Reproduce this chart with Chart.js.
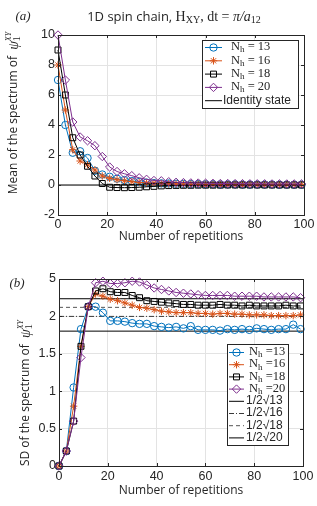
<!DOCTYPE html>
<html>
<head>
<meta charset="utf-8">
<script src="https://cdn.jsdelivr.net/npm/chart.js@4/dist/chart.umd.min.js"></script>
<style>
  body { margin: 0; background: #fff; }
  .panel { position: relative; width: 317px; }
  #topWrap { height: 250px; }
  #botWrap { height: 256px; }
</style>
</head>
<body>
<div class="panel" id="topWrap"><canvas id="meanChart"></canvas></div>
<div class="panel" id="botWrap"><canvas id="sdChart"></canvas></div>
<script>
// x positions (number of repetitions)
const repetitions = [0, 3, 6, 9, 12, 15, 18, 21, 24, 27, 30, 33, 36, 39, 42, 45, 48,
  51, 54, 57, 60, 63, 66, 69, 72, 75, 78, 81, 84, 87, 90, 93, 96, 99];

// (a) mean of the spectrum
const meanN13 = [7.0, 4.0, 2.15, 2.25, 1.8, 0.95, 0.7, 0.55, 0.42, 0.33, 0.26, 0.2, 0.16, 0.13, 0.11, 0.1, 0.08,
  0.07, 0.06, 0.06, 0.05, 0.05, 0.04, 0.04, 0.04, 0.03, 0.03, 0.03, 0.03, 0.03, 0.02, 0.02, 0.02, 0.02];
const meanN16 = [8.0, 5.0, 2.35, 1.6, 1.35, 1.0, 0.6, 0.45, 0.35, 0.28, 0.22, 0.17, 0.14, 0.12, 0.1, 0.08, 0.07,
  0.06, 0.05, 0.05, 0.04, 0.04, 0.04, 0.03, 0.03, 0.03, 0.03, 0.02, 0.02, 0.02, 0.02, 0.02, 0.02, 0.02];
const meanN18 = [9.0, 6.0, 3.15, 2.0, 1.25, 0.6, 0.1, -0.15, -0.17, -0.18, -0.17, -0.15, -0.12, -0.09, -0.06, -0.04, -0.03,
  -0.02, -0.02, -0.01, -0.01, -0.01, -0.01, 0, 0, 0, 0, 0, 0, 0, 0, 0, 0, 0];
const meanN20 = [10.0, 7.0, 4.2, 3.2, 2.95, 2.62, 1.9, 1.2, 0.9, 0.75, 0.62, 0.48, 0.38, 0.3, 0.28, 0.22, 0.18,
  0.16, 0.14, 0.13, 0.12, 0.11, 0.1, 0.1, 0.09, 0.09, 0.08, 0.08, 0.08, 0.07, 0.07, 0.07, 0.07, 0.07];
const identityLevel = 0;

// (b) SD of the spectrum
const sdN13 = [0, 0.2, 1.05, 1.83, 2.13, 2.13, 2.05, 1.94, 1.94, 1.93, 1.91, 1.90, 1.90, 1.87, 1.86, 1.85, 1.86,
  1.84, 1.87, 1.82, 1.82, 1.82, 1.81, 1.83, 1.82, 1.83, 1.82, 1.84, 1.83, 1.82, 1.83, 1.83, 1.89, 1.83];
const sdN16 = [0, 0.2, 0.8, 1.6, 2.13, 2.30, 2.27, 2.23, 2.21, 2.18, 2.15, 2.12, 2.11, 2.09, 2.07, 2.06, 2.05,
  2.05, 2.05, 2.04, 2.04, 2.03, 2.04, 2.04, 2.03, 2.03, 2.02, 2.02, 2.02, 2.01, 2.01, 2.01, 2.01, 2.02];
const sdN18 = [0, 0.2, 0.6, 1.6, 2.13, 2.34, 2.37, 2.33, 2.32, 2.32, 2.28, 2.25, 2.21, 2.20, 2.19, 2.18, 2.17,
  2.16, 2.16, 2.15, 2.15, 2.15, 2.16, 2.15, 2.15, 2.14, 2.15, 2.14, 2.14, 2.14, 2.14, 2.15, 2.14, 2.14];
const sdN20 = [0, 0.2, 0.6, 1.45, 2.13, 2.45, 2.47, 2.44, 2.44, 2.45, 2.47, 2.46, 2.42, 2.38, 2.36, 2.34, 2.32,
  2.31, 2.30, 2.29, 2.28, 2.28, 2.28, 2.28, 2.27, 2.27, 2.27, 2.27, 2.26, 2.26, 2.26, 2.26, 2.26, 2.25];
const sdRefValues = [1.803, 2.0, 2.121, 2.236];   // 1/2 sqrt(N_h)
const sdRefLabels = ["1/2\u221A13", "1/2\u221A16", "1/2\u221A18", "1/2\u221A20"];

const sizes = ["13", "16", "18", "20"];
const xTicks = [0, 20, 40, 60, 80, 100];

const textColor = "#262626";
const gridColor = "#e3e3e3";
const sans = '"Liberation Sans", Arial, sans-serif';
const labelFont = '"Open Sans", sans-serif';
const serif = '"Liberation Serif", "Times New Roman", serif';

const seriesStyle = [
  { color: "#0072BD", pointStyle: "circle", radius: 3.7 },
  { color: "#D95319", pointStyle: "star", radius: 3.7 },
  { color: "#000000", pointStyle: "rect", radius: 4.2 },
  { color: "#7E2F8E", pointStyle: "rectRot", radius: 4.2 },
];
const refStyle = [
  { color: "#000000", dash: [] },
  { color: "#3a3a3a", dash: [5, 2, 1, 2] },
  { color: "#555555", dash: [4, 3] },
  { color: "#000000", dash: [] },
];

function toPoints(values) {
  return values.map((v, i) => ({ x: repetitions[i], y: v }));
}

function seriesDataset(values, i) {
  let s = seriesStyle[i];
  return {
    data: toPoints(values),
    borderColor: s.color,
    borderWidth: 1,
    pointStyle: s.pointStyle,
    pointRadius: s.radius,
    pointBorderColor: s.color,
    pointBackgroundColor: "rgba(0,0,0,0)",
    pointBorderWidth: 1,
    tension: 0,
    clip: false,
    order: 4 - i,
  };
}

function flatDataset(level, color, dash) {
  return {
    data: [{ x: 0, y: level }, { x: 100, y: level }],
    borderColor: color,
    borderWidth: 1,
    borderDash: dash,
    pointRadius: 0,
    clip: false,
    order: 10,
  };
}

// draws a run of text pieces (sub/superscripts) centred on x
function drawRich(ctx, parts, x, y, align) {
  let total = 0;
  parts.forEach((p, k) => {
    ctx.font = p.font;
    p.w = ctx.measureText(p.text).width;
    total += p.back ? Math.max(0, p.w - parts[k - 1].w) : p.w;
  });
  let cx = align === "left" ? x : x - total / 2;
  ctx.textAlign = "left";
  ctx.textBaseline = "middle";
  let prev = null;
  parts.forEach((p) => {
    ctx.font = p.font;
    if (p.back) cx -= prev.w;
    ctx.fillText(p.text, cx, y + (p.dy || 0));
    cx += p.w;
    prev = p;
  });
}

function psiParts(size) {
  return [
    { text: "\u03C8", font: "italic " + (size + 3) + "px " + serif },
    { text: "1", font: (size - 1) + "px " + serif, dy: 3 },
    { text: "XY", font: "italic " + (size - 3) + "px " + serif, dy: -5, back: true },
  ];
}

function nhParts(num, spaced) {
  return [
    { text: "N", font: "12.5px " + serif },
    { text: "h", font: "9px " + serif, dy: 3 },
    { text: spaced ? " = " + num : " =" + num, font: "12.5px " + serif },
  ];
}

function drawFrame(chart) {
  let ctx = chart.ctx;
  let a = chart.chartArea;
  ctx.save();
  ctx.strokeStyle = textColor;
  ctx.lineWidth = 1;
  ctx.beginPath();
  let xs = chart.scales.x, ys = chart.scales.y;
  xs.ticks.forEach((t) => {
    let px = Math.round(xs.getPixelForValue(t.value)) + 0.5;
    ctx.moveTo(px, a.bottom); ctx.lineTo(px, a.bottom - 3);
    ctx.moveTo(px, a.top); ctx.lineTo(px, a.top + 3);
  });
  ys.ticks.forEach((t) => {
    let py = Math.round(ys.getPixelForValue(t.value)) + 0.5;
    ctx.moveTo(a.left, py); ctx.lineTo(a.left + 3, py);
    ctx.moveTo(a.right, py); ctx.lineTo(a.right - 3, py);
  });
  ctx.stroke();
  ctx.strokeRect(Math.round(a.left) + 0.5, Math.round(a.top) + 0.5,
    Math.round(a.right - a.left), Math.round(a.bottom - a.top));
  ctx.restore();
}

function drawLegend(ctx, box, rows) {
  ctx.save();
  ctx.fillStyle = "#fff";
  ctx.fillRect(box.x, box.y, box.w, box.h);
  ctx.strokeStyle = textColor;
  ctx.lineWidth = 1;
  ctx.strokeRect(box.x + 0.5, box.y + 0.5, box.w, box.h);
  rows.forEach((r, i) => {
    let y = box.y + box.first + i * box.step;
    ctx.strokeStyle = r.color;
    ctx.lineWidth = 1;
    ctx.setLineDash(r.dash || []);
    ctx.beginPath();
    ctx.moveTo(box.x + box.line0, y + 0.5);
    ctx.lineTo(box.x + box.line1, y + 0.5);
    ctx.stroke();
    ctx.setLineDash([]);
    if (r.pointStyle) {
      ctx.fillStyle = "rgba(0,0,0,0)";
      Chart.helpers.drawPoint(ctx, { pointStyle: r.pointStyle, radius: r.radius, borderWidth: 1, rotation: 0 },
        box.x + (box.line0 + box.line1) / 2, y + 0.5);
    }
    ctx.fillStyle = textColor;
    drawRich(ctx, r.parts, box.x + (r.textX || box.textX), y, "left");
  });
  ctx.restore();
}

const meanDecor = {
  id: "meanDecor",
  afterDraw(chart) {
    let ctx = chart.ctx;
    let a = chart.chartArea;
    drawFrame(chart);
    let rows = sizes.map((n, i) => ({
      color: seriesStyle[i].color, pointStyle: seriesStyle[i].pointStyle,
      radius: seriesStyle[i].radius, parts: nhParts(n, true),
    }));
    rows.push({ color: "#000", parts: [{ text: "Identity state", font: "12px " + sans }], textX: 21 });
    drawLegend(ctx, { x: 202, y: 40, w: 96, h: 68, first: 7, step: 13.3, line0: 3, line1: 20, textX: 29 }, rows);

    ctx.save();
    ctx.fillStyle = textColor;
    drawRich(ctx, [{ text: "(a)", font: "italic 13px " + serif }], 23, 17);
    drawRich(ctx, [
      { text: "1D spin chain, ", font: "13px " + labelFont },
      { text: "H", font: "14px " + serif },
      { text: "XY", font: "10px " + serif, dy: 3 },
      { text: ", dt = ", font: "14px " + serif },
      { text: "\u03C0/a", font: "italic 14px " + serif },
      { text: "12", font: "10px " + serif, dy: 3 },
    ], 174, 17);
    drawRich(ctx, [{ text: "Number of repetitions", font: "12px " + labelFont }], (a.left + a.right) / 2, 237);
    ctx.translate(14, 113);
    ctx.rotate(-Math.PI / 2);
    drawRich(ctx, [{ text: "Mean of the spectrum of  ", font: "12px " + labelFont }].concat(psiParts(11)), 0, 0);
    ctx.restore();
  },
};

const sdDecor = {
  id: "sdDecor",
  afterDraw(chart) {
    let ctx = chart.ctx;
    let a = chart.chartArea;
    drawFrame(chart);
    let rows = sizes.map((n, i) => ({
      color: seriesStyle[i].color, pointStyle: seriesStyle[i].pointStyle,
      radius: seriesStyle[i].radius, parts: nhParts(n, false),
    }));
    sdRefLabels.forEach((lab, i) => {
      rows.push({ color: refStyle[i].color, dash: refStyle[i].dash, parts: [{ text: lab, font: "12px " + sans }], textX: 19 });
    });
    drawLegend(ctx, { x: 227, y: 94, w: 61, h: 101, first: 8, step: 12.2, line0: 2, line1: 17, textX: 22 }, rows);

    ctx.save();
    ctx.fillStyle = textColor;
    drawRich(ctx, [{ text: "(b)", font: "italic 13px " + serif }], 17, 34);
    drawRich(ctx, [{ text: "Number of repetitions", font: "12px " + labelFont }], (a.left + a.right) / 2, 241);
    ctx.translate(26, 143);
    ctx.rotate(-Math.PI / 2);
    drawRich(ctx, [{ text: "SD of the spectrum of  ", font: "12px " + labelFont }].concat(psiParts(11)), 0, 0);
    ctx.restore();
  },
};

function axes(yMin, yMax, yStep, xHeight, yWidth, xPad, yLabel) {
  return {
    x: {
      type: "linear", min: 0, max: 100,
      afterBuildTicks(s) { s.ticks = xTicks.map((v) => ({ value: v })); },
      ticks: { color: textColor, font: { family: sans, size: 12.5 }, padding: xPad, maxRotation: 0 },
      grid: { color: gridColor, drawTicks: false },
      border: { display: false },
      afterFit(s) { s.height = xHeight; },
    },
    y: {
      min: yMin, max: yMax,
      ticks: { stepSize: yStep, color: textColor, font: { family: sans, size: 12.5 }, padding: 3, callback: yLabel },
      grid: { color: gridColor, drawTicks: false },
      border: { display: false },
      afterFit(s) { s.width = yWidth; },
    },
  };
}

const common = {
  responsive: true,
  maintainAspectRatio: false,
  animation: false,
  events: [],
  plugins: { legend: { display: false }, tooltip: { enabled: false } },
};

new Chart(document.getElementById("meanChart"), {
  type: "line",
  data: {
    datasets: [meanN13, meanN16, meanN18, meanN20].map(seriesDataset)
      .concat([flatDataset(identityLevel, "#000", [])]),
  },
  options: Object.assign({}, common, {
    layout: { padding: { left: 0, right: 13, top: 35, bottom: 0 } },
    scales: axes(-2, 10, 2, 35, 58, 2, (v) => v),
  }),
  plugins: [meanDecor],
});

new Chart(document.getElementById("sdChart"), {
  type: "line",
  data: {
    datasets: [sdN13, sdN16, sdN18, sdN20].map(seriesDataset)
      .concat(sdRefValues.map((v, i) => flatDataset(v, refStyle[i].color, refStyle[i].dash))),
  },
  options: Object.assign({}, common, {
    layout: { padding: { left: 0, right: 14, top: 29, bottom: 0 } },
    scales: axes(0, 2.5, 0.5, 40, 59, 3, (v) => (v === 2.5 ? "5" : v)),
  }),
  plugins: [sdDecor],
});
</script>
</body>
</html>
